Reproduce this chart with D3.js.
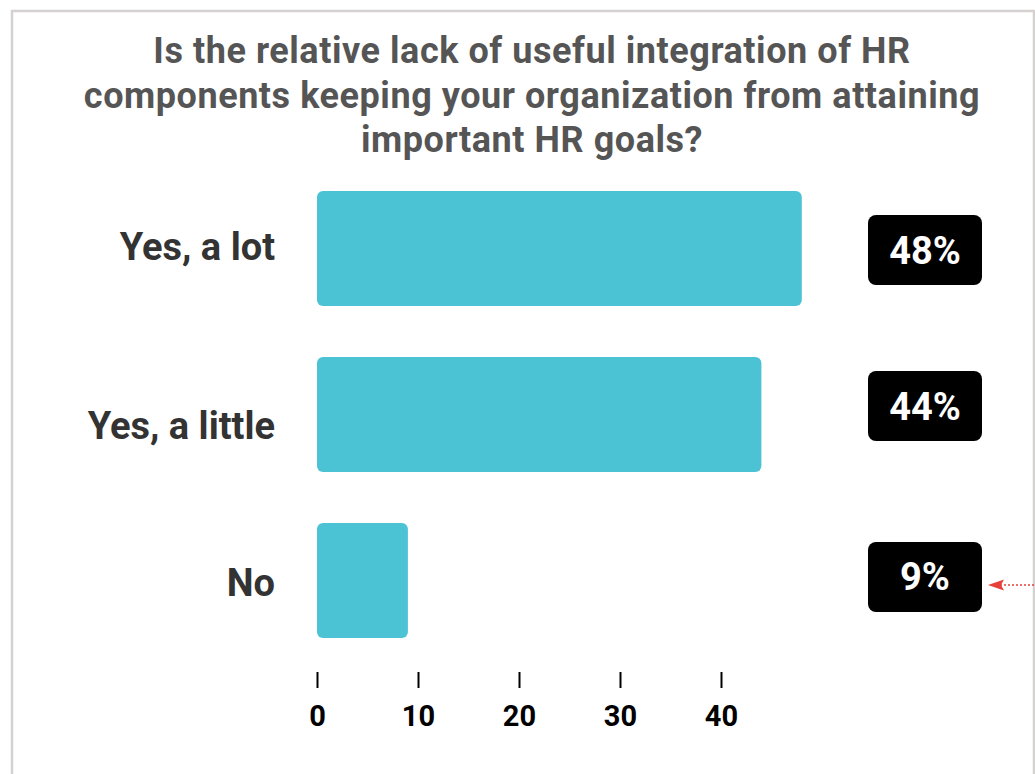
<!DOCTYPE html>
<html>
<head>
<meta charset="utf-8">
<script src="https://cdn.jsdelivr.net/npm/d3@7"></script>
<style>
  html, body { margin: 0; padding: 0; background: #fff; }
  svg { display: block; font-family: Roboto, "Noto Sans", sans-serif; }
</style>
</head>
<body>
<svg id="chart" width="1035" height="774"></svg>
<script>
// Survey answers and the share of respondents for each
const categories = ["Yes, a lot", "Yes, a little", "No"];
const values = [48, 44, 9];
const valueLabels = ["48%", "44%", "9%"];
const tickValues = [0, 10, 20, 30, 40];
const titleLines = [
  "Is the relative lack of useful integration of HR",
  "components keeping your organization from attaining",
  "important HR goals?"
];

const svg = d3.select("#chart");
const W = 1035, H = 774;

// Card frame
svg.append("rect")
  .attr("x", 12).attr("y", 11)
  .attr("width", W - 12 - 1).attr("height", H + 20)
  .attr("fill", "#fff")
  .attr("stroke", "#d6d1d1").attr("stroke-width", 2.5);

// Title
svg.append("text")
  .attr("text-anchor", "middle")
  .attr("fill", "#555555")
  .attr("font-weight", 700)
  .attr("font-size", 36)
  .attr("letter-spacing", 0.55)
  .selectAll("tspan")
  .data(titleLines)
  .join("tspan")
  .attr("x", 532)
  .attr("y", (d, i) => 63 + i * 44.5)
  .text(d => d);

// Scales
const x = d3.scaleLinear().domain([0, 40]).range([317, 721]);
const y = d3.scaleBand().domain(categories).range([191, 638]).paddingInner(0.307).paddingOuter(0);

// Bars
svg.append("g")
  .selectAll("rect")
  .data(values)
  .join("rect")
  .attr("x", x(0))
  .attr("y", (d, i) => y(categories[i]))
  .attr("width", d => x(d) - x(0))
  .attr("height", y.bandwidth())
  .attr("rx", 6)
  .attr("fill", "#4bc3d4");

// Category labels
const labelOffsets = [0, 13, 4];
svg.append("g")
  .selectAll("text")
  .data(categories)
  .join("text")
  .attr("x", 275)
  .attr("y", (d, i) => y(d) + y.bandwidth() / 2 + labelOffsets[i])
  .attr("dy", "0.3em")
  .attr("text-anchor", "end")
  .attr("fill", "#333333")
  .attr("font-weight", 700)
  .attr("font-size", 38)
  .text(d => d);

// Value badges
const badgeOffsets = [1.5, -8.5, -3.5];
const badges = svg.append("g")
  .selectAll("g")
  .data(values)
  .join("g")
  .attr("transform", (d, i) => `translate(925,${y(categories[i]) + y.bandwidth() / 2 + badgeOffsets[i]})`);
badges.append("rect")
  .attr("x", -57).attr("y", -35)
  .attr("width", 114).attr("height", 70)
  .attr("rx", 8)
  .attr("fill", "#000");
badges.append("text")
  .attr("text-anchor", "middle")
  .attr("dy", "0.355em")
  .attr("fill", "#fff")
  .attr("font-weight", 700)
  .attr("font-size", 38)
  .text((d, i) => valueLabels[i]);

// Dotted pointer towards the smallest share
const lastY = y(categories[2]) + y.bandwidth() / 2 + badgeOffsets[2] + 8;
svg.append("line")
  .attr("x1", 1000).attr("x2", 1035)
  .attr("y1", lastY).attr("y2", lastY)
  .attr("stroke", "#e8403a").attr("stroke-width", 1.5)
  .attr("stroke-dasharray", "2,2");
svg.append("path")
  .attr("d", `M988,${lastY} L1004,${lastY - 5.5} L1001,${lastY} L1004,${lastY + 5.5} Z`)
  .attr("fill", "#e8403a");

// Axis
const axis = d3.axisBottom(x).tickValues(tickValues).tickSize(16).tickPadding(17);
const gAxis = svg.append("g")
  .attr("transform", "translate(0,672)")
  .call(axis);
gAxis.select(".domain").remove();
gAxis.selectAll(".tick line").attr("stroke", "#000").attr("stroke-width", 2);
gAxis.selectAll(".tick text")
  .attr("fill", "#000")
  .attr("font-family", "Roboto, sans-serif")
  .attr("font-weight", 700)
  .attr("font-size", 29);
</script>
</body>
</html>
